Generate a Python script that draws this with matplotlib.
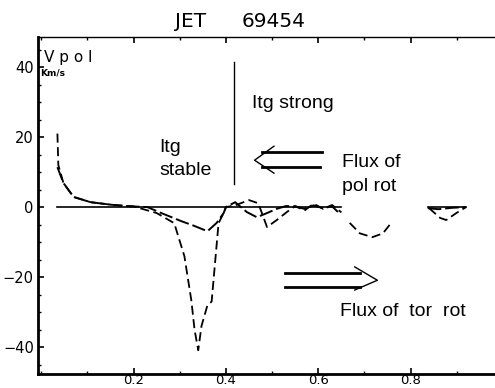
import numpy as np
import matplotlib
matplotlib.use('Agg')
import matplotlib.pyplot as plt
from matplotlib.ticker import MultipleLocator

# --- data ---
# long-dash curve
xa = [0.035, 0.048, 0.07, 0.107, 0.15, 0.18, 0.23, 0.26, 0.303, 0.33, 0.36,
      0.38, 0.395, 0.40, 0.42, 0.445, 0.467, 0.489, 0.51, 0.53, 0.55, 0.57,
      0.59, 0.61, 0.63, 0.645, np.nan, 0.837, 0.86, 0.89, 0.92]
ya = [11.4, 6.9, 2.9, 1.4, 0.7, 0.3, 0.0, -1.7, -4.0, -5.3, -6.9,
      -4.5, -1.7, 0.0, 1.4, -1.4, -2.9, -1.7, -0.5, 0.3, 0.2, -0.5,
      0.5, -0.3, 0.2, -1.7, np.nan, -0.3, -0.6, -0.2, 0.0]
# short-dash curve (deep dip)
xb = [0.035, 0.037, 0.048, 0.07, 0.107, 0.15, 0.2, 0.25, 0.288, 0.31, 0.325,
      0.332, 0.34, 0.347, 0.36, 0.369, 0.384, 0.395, 0.40, 0.42, 0.45, 0.47,
      0.489, 0.51, 0.532, 0.55, 0.57, 0.59, 0.61, 0.63, 0.65, np.nan,
      0.668, 0.69, 0.717, 0.74, 0.755, np.nan,
      0.84, 0.864, 0.877, 0.899, 0.92]
yb = [21.0, 12.0, 6.9, 2.9, 1.4, 0.7, 0.2, -1.7, -4.6, -14.0, -26.6,
      -35.0, -40.9, -34.0, -28.0, -27.0, -4.6, -1.7, 0.0, 0.5, 2.0, 1.1,
      -5.7, -3.7, -1.4, 0.3, -1.0, 1.0, -0.5, 0.6, -1.5, np.nan,
      -4.5, -7.5, -8.6, -7.5, -5.0, np.nan,
      -0.3, -3.1, -3.7, -1.7, 0.0]
# zero reference segments
x_zero = [0.035, 0.65, np.nan, 0.837, 0.92]
y_zero = [0.0, 0.0, np.nan, 0.0, 0.0]

xticks = [0.2, 0.4, 0.6, 0.8]
xtick_labels = ['0.2', '0.4', '0.6', '0.8']
yticks = [-40, -20, 0, 20, 40]

fig = plt.figure(figsize=(4.95, 3.88), dpi=100)
ax = fig.add_axes([0.0768, 0.036, 0.93, 0.8686])

ax.plot(x_zero, y_zero, color='black', lw=1.2)
ax.plot(xa, ya, color='black', lw=1.4, dashes=(7, 2))
ax.plot(xb, yb, color='black', lw=1.3, dashes=(5, 2.5))

# separator line
ax.plot([0.417, 0.417], [6.6, 41.4], color='black', lw=1.0)

# arrows (drawn as plain lines, like the original sketch)
ax.plot([0.478, 0.608], [15.7, 15.7], color='black', lw=2)
ax.plot([0.478, 0.604], [11.4, 11.4], color='black', lw=2)
ax.plot([0.504, 0.462, 0.504], [17.4, 13.4, 9.7], color='black', lw=1)
ax.plot([0.528, 0.691], [-18.9, -18.9], color='black', lw=2)
ax.plot([0.528, 0.691], [-22.9, -22.9], color='black', lw=2)
ax.plot([0.679, 0.728, 0.679], [-17.1, -20.9, -23.7], color='black', lw=1)

txt = dict(family='Liberation Sans', fontsize=14, va='baseline', color='black')
ax.text(0.255, 15.7, 'Itg', **txt)
ax.text(0.255, 9.1, 'stable', **txt)
ax.text(0.456, 28.3, 'Itg strong', **txt)
ax.text(0.652, 11.4, 'Flux of', **txt)
ax.text(0.652, 4.6, 'pol rot', **txt)
ax.text(0.648, -31.1, 'Flux of  tor  rot', **txt)

ax.text(0.005, 41.4, 'V p o l', fontsize=11, va='baseline', color='black')
ax.text(-0.002, 37.6, 'Km/s', fontsize=6.5, fontweight='bold', va='baseline', color='black')

fig.text(175 / 495, 1 - 27 / 388, 'JET', fontsize=14.5, va='baseline')
fig.text(242 / 495, 1 - 27 / 388, '69454', fontsize=14.5, va='baseline')

ax.set_xlim(-0.007, 0.99)
ax.set_ylim(-47.7, 48.6)
ax.set_xticks(xticks)
ax.set_xticklabels(xtick_labels)
ax.set_yticks(yticks)
ax.xaxis.set_minor_locator(MultipleLocator(0.1))
ax.yaxis.set_minor_locator(MultipleLocator(5))
ax.tick_params(which='both', direction='in', top=True, right=False)
ax.tick_params(which='major', length=4, width=1.2)
ax.tick_params(which='minor', length=2, width=1)
ax.tick_params(axis='x', pad=0, labelsize=9.5)
ax.tick_params(axis='y', pad=3, labelsize=10.5)

ax.spines['right'].set_visible(False)
ax.spines['left'].set_linewidth(2)
ax.spines['bottom'].set_linewidth(2)
ax.spines['top'].set_linewidth(1)

fig.savefig('out.png', dpi=100)
